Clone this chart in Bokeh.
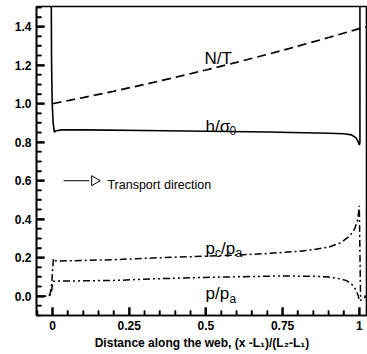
import math
from bokeh.plotting import figure
from bokeh.models import FixedTicker, NumeralTickFormatter, Label, Range1d
from bokeh.embed import file_html
from bokeh.resources import INLINE

# ---- data ----
nt_x = [0.0, 0.1, 0.2, 0.3, 0.4, 0.5, 0.6, 0.7, 0.8, 0.9, 1.0, 1.027]
nt_y = [1.000, 1.032, 1.065, 1.100, 1.137, 1.175, 1.215, 1.256, 1.299, 1.344, 1.390, 1.400]

h_x = [-0.004, -0.003, -0.001, 0.002, 0.006, 0.012, 0.03, 0.1, 0.3, 0.5, 0.7, 0.9,
       0.95, 0.975, 0.99, 0.997, 1.0, 1.002, 1.002]
h_y = [1.51, 1.20, 1.00, 0.90, 0.852, 0.860, 0.864, 0.864, 0.861, 0.857, 0.853, 0.847,
       0.844, 0.838, 0.822, 0.80, 0.785, 0.80, 1.51]

pc_x = [-0.06, -0.016, -0.008, -0.003, 0.0, 0.003, 0.006, 0.02, 0.1, 0.2, 0.3, 0.4, 0.5,
        0.6, 0.7, 0.8, 0.85, 0.9, 0.94, 0.97, 0.985, 0.995, 1.0, 1.004, 1.015, 1.03]
pc_y = [0.0, 0.0, 0.01, 0.06, 0.13, 0.195, 0.185, 0.183, 0.186, 0.190, 0.197, 0.203, 0.208,
        0.214, 0.222, 0.233, 0.242, 0.255, 0.278, 0.315, 0.350, 0.400, 0.470, 0.0, 0.0, 0.0]

p_x = [-0.06, -0.015, -0.008, -0.003, 0.0, 0.004, 0.01, 0.1, 0.22, 0.32, 0.5, 0.74, 0.85,
       0.9, 0.94, 0.96, 0.98, 0.99, 0.997, 1.0, 1.005, 1.015, 1.03]
p_y = [0.0, 0.0, 0.005, 0.03, 0.06, 0.078, 0.079, 0.080, 0.083, 0.090, 0.098, 0.105, 0.104,
       0.100, 0.090, 0.080, 0.055, 0.030, 0.0, -0.025, -0.020, -0.008, 0.0]

x_ticks = [0, 0.25, 0.5, 0.75, 1]
x_minor = [v / 100 for v in range(-5, 105, 5) if v % 25 != 0]
y_ticks = [0.0, 0.2, 0.4, 0.6, 0.8, 1.0, 1.2, 1.4]
y_minor = [v / 100 for v in range(-10, 155, 5) if v % 20 != 0]

x_lim = (-0.0522, 1.0267)
y_lim = (-0.1, 1.505)

arrow_x = [0.036, 0.12]
arrow_head_x = [0.137]
arrow_y = [0.6, 0.6]

FONT = "Liberation Sans"
W, H = 367, 354
BL, BR, BT, BB = 36, 0, 6, 39

p = figure(width=W, height=H, output_backend="svg", toolbar_location=None,
           x_range=Range1d(*x_lim), y_range=Range1d(*y_lim),
           min_border_left=BL, min_border_right=BR, min_border_top=BT, min_border_bottom=BB)
p.grid.visible = False
p.outline_line_color = "black"
p.outline_line_width = 1.6

# inward tick marks drawn first: one broken line per tick class
ux = (x_lim[1] - x_lim[0]) / (W - BL - BR)
uy = (y_lim[1] - y_lim[0]) / (H - BT - BB)
NAN = float("nan")

def tick_path(yvals, xvals, length):
    xs, ys = [], []
    for v in yvals:
        xs += [x_lim[0] - 2 * ux, x_lim[0] + length * ux, NAN]
        ys += [v, v, NAN]
    for v in xvals:
        xs += [v, v, NAN]
        ys += [y_lim[0] - 2 * uy, y_lim[0] + length * uy, NAN]
    return xs, ys

mx, my = tick_path(y_ticks, x_ticks, 8)
nx, ny = tick_path(y_minor, x_minor, 5)
p.line(mx, my, line_color="black", line_width=2)
p.line(nx, ny, line_color="black", line_width=1.5)

# curves
p.line(nt_x, nt_y, line_color="black", line_width=1.7, line_dash="9 5")
p.line(h_x, h_y, line_color="black", line_width=1.6)
p.line(pc_x, pc_y, line_color="black", line_width=1.5, line_dash="7 3 2 3")
p.line(p_x, p_y, line_color="black", line_width=1.5, line_dash="7 3 2 3 2 3")

# transport direction arrow (shaft + open triangular head)
p.line(arrow_x, arrow_y, line_color="black", line_width=1)
p.scatter(arrow_head_x, arrow_y[:1], marker="triangle", angle=-math.pi / 2, size=10,
          fill_color="white", line_color="black", line_width=1)

# axes
for ax in (p.xaxis[0], p.yaxis[0]):
    ax.axis_line_width = 1.6
    ax.axis_line_color = "black"
    ax.major_tick_in = 8
    ax.major_tick_out = 0
    ax.minor_tick_in = 5
    ax.minor_tick_out = 0
    ax.major_tick_line_color = "black"
    ax.minor_tick_line_color = "black"
    ax.major_tick_line_width = 2
    ax.minor_tick_line_width = 1.5
    ax.major_label_text_font = FONT
    ax.major_label_text_font_style = "bold"
    ax.major_label_text_font_size = "12px"
    ax.major_label_text_color = "black"

p.xaxis.ticker = FixedTicker(ticks=x_ticks, minor_ticks=x_minor)
p.yaxis.ticker = FixedTicker(ticks=y_ticks, minor_ticks=y_minor)
p.xaxis.formatter = NumeralTickFormatter(format="0.[00]")
p.yaxis.formatter = NumeralTickFormatter(format="0.0")
p.xaxis.major_label_standoff = 5
p.yaxis.major_label_standoff = 5

p.xaxis.axis_label = "Distance along the web, (x -L\u2081)/(L\u2082-L\u2081)"
p.xaxis.axis_label_text_font = FONT
p.xaxis.axis_label_text_font_style = "bold"
p.xaxis.axis_label_text_font_size = "12px"
p.xaxis.axis_label_text_color = "black"
p.xaxis.axis_label_standoff = 3

# curve labels
def lab(x, y, t, size, dx=0, dy=0):
    p.add_layout(Label(x=x, y=y, text=t, x_offset=dx, y_offset=dy,
                       text_font=FONT, text_font_size=size, text_color="black",
                       text_align="left", text_baseline="alphabetic"))

lab(0.495, 1.233, "N/T", "17px")
lab(0.499, 0.881, "h/\u03c3", "17px")
lab(0.499, 0.881, "0", "12px", dx=24, dy=-4)
lab(0.499, 0.248, "p", "17px")
lab(0.499, 0.248, "c", "12px", dx=9.5, dy=-4)
lab(0.499, 0.248, "/p", "17px", dx=15.5)
lab(0.499, 0.248, "a", "12px", dx=30, dy=-4)
lab(0.499, 0.0135, "p/p", "17px")
lab(0.499, 0.0135, "a", "12px", dx=24, dy=-5)
lab(0.179, 0.6, "Transport direction", "12.5px", dy=-4)

open("out.html", "w").write(file_html(p, INLINE))
